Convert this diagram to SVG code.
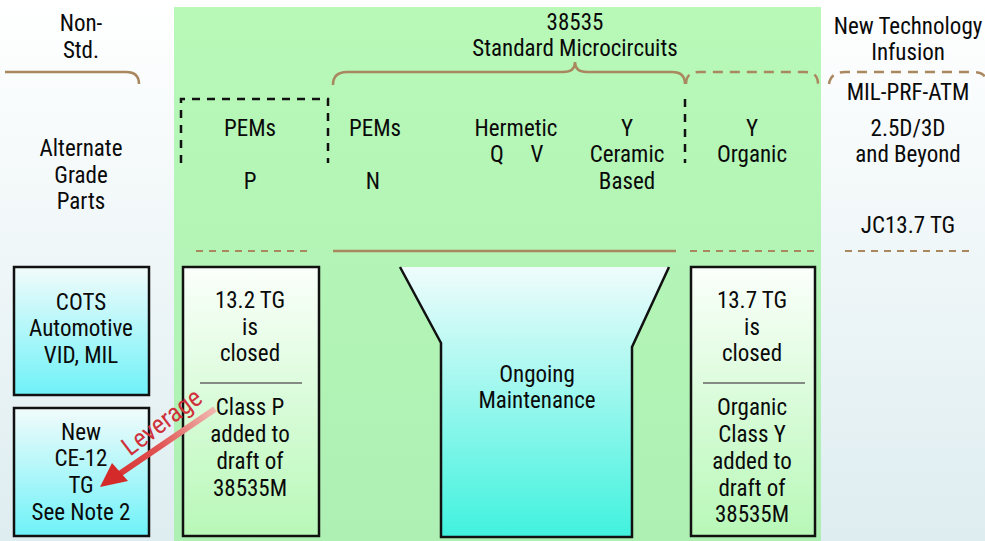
<svg xmlns="http://www.w3.org/2000/svg" width="985" height="541" viewBox="0 0 985 541">
<defs>
<linearGradient id="bgSide" x1="0" y1="0" x2="0" y2="1"><stop offset="0" stop-color="#ffffff"/><stop offset="1" stop-color="#deedf0"/></linearGradient>
<linearGradient id="bgGreen" x1="0" y1="0" x2="0" y2="1"><stop offset="0" stop-color="#b8f9b8"/><stop offset="1" stop-color="#aef0b4"/></linearGradient>
<linearGradient id="cyanBox" x1="0" y1="0" x2="0" y2="1"><stop offset="0" stop-color="#f2fbfb"/><stop offset="1" stop-color="#6ef2f8"/></linearGradient>
<linearGradient id="greenBox" x1="0" y1="0" x2="0" y2="1"><stop offset="0" stop-color="#fbfffb"/><stop offset="1" stop-color="#b8f8b8"/></linearGradient>
<linearGradient id="funnel" x1="0" y1="0" x2="0" y2="1"><stop offset="0" stop-color="#effcfc"/><stop offset="1" stop-color="#40f2de"/></linearGradient>
<linearGradient id="arrowGrad" gradientUnits="userSpaceOnUse" x1="215" y1="410" x2="100" y2="487"><stop offset="0" stop-color="#f0b8b0"/><stop offset="0.5" stop-color="#e05050"/><stop offset="1" stop-color="#d42a2a"/></linearGradient>
</defs>
<style>
text{font-family:"Roboto Condensed",Roboto,"Liberation Sans",Arial,sans-serif;font-size:23px;fill:#0a0a0a;text-anchor:middle}
.brace{fill:none;stroke:#a9875f;stroke-width:2.5}
.bdash{fill:none;stroke:#a9875f;stroke-width:2.5;stroke-dasharray:10 7}
.hdash{fill:none;stroke:#a9875f;stroke-width:2;stroke-dasharray:7 6}
.kdash{fill:none;stroke:#111;stroke-width:2.5;stroke-dasharray:8 7}
.box{stroke:#111;stroke-width:2.5}
.sep{stroke:#666;stroke-width:1.5}
.lev{fill:#d0303a;font-size:26px}
</style>
<rect x="0" y="0" width="985" height="541" fill="url(#bgSide)"/>
<rect x="0" y="0" width="985" height="7" fill="#ffffff"/>
<rect x="174" y="7" width="647" height="534" fill="url(#bgGreen)"/>

<g id="headers">
<text x="81" y="31">Non-</text>
<text x="81" y="58">Std.</text>
<text x="575" y="30">38535</text>
<text x="575" y="56">Standard Microcircuits</text>
<text x="908" y="34">New Technology</text>
<text x="908" y="60">Infusion</text>
</g>

<g id="braces">
<path class="brace" d="M5,72 L126,72 Q139,72 139,84"/>
<path class="brace" d="M333,85 Q333,72 347,72 L563,72 Q575,72 575,62 Q575,72 587,72 L672,72 Q685,72 685,84"/>
<path class="bdash" d="M686,84 Q686,72 699,72 L805,72 Q818,72 818,84"/>
<path class="bdash" d="M829,84 Q831,72 845,72 L972,72 Q984,72 985,78"/>
</g>

<g id="col-p">
<path class="kdash" d="M181,163 L181,99 L328,99 L328,163"/>
<text x="250" y="136">PEMs</text>
<text x="250" y="189">P</text>
</g>
<g id="col-n">
<text x="375" y="136">PEMs</text>
<text x="373" y="189">N</text>
</g>
<g id="col-hermetic">
<text x="516" y="136">Hermetic</text>
<text x="497" y="162">Q</text>
<text x="537" y="162">V</text>
</g>
<g id="col-ceramic">
<text x="627" y="136">Y</text>
<text x="627" y="162">Ceramic</text>
<text x="627" y="189">Based</text>
</g>
<path class="kdash" d="M685,99 L685,163"/>
<g id="col-organic">
<text x="752" y="136">Y</text>
<text x="752" y="162">Organic</text>
</g>
<g id="col-new">
<text x="908" y="100">MIL-PRF-ATM</text>
<text x="908" y="136">2.5D/3D</text>
<text x="908" y="162">and Beyond</text>
<text x="908" y="233">JC13.7 TG</text>
</g>
<g id="col-alt">
<text x="81" y="156">Alternate</text>
<text x="81" y="183">Grade</text>
<text x="81" y="209">Parts</text>
</g>

<g id="dividers">
<path class="hdash" d="M196,251 L308,251"/>
<path class="brace" d="M333,251 L676,251"/>
<path class="hdash" d="M690,251 L815,251"/>
<path class="hdash" d="M845,251 L972,251"/>
</g>

<g id="cots">
<rect class="box" x="14" y="267" width="135" height="128" fill="url(#cyanBox)"/>
<text x="81" y="310">COTS</text>
<text x="81" y="336">Automotive</text>
<text x="81" y="363">VID, MIL</text>
</g>
<g id="ce12">
<rect class="box" x="14" y="408" width="135" height="128" fill="url(#cyanBox)"/>
<text x="81" y="440">New</text>
<text x="81" y="466">CE-12</text>
<text x="81" y="493">TG</text>
<text x="81" y="520">See Note 2</text>
</g>
<g id="tg132">
<rect class="box" x="183" y="267" width="136" height="269" fill="url(#greenBox)"/>
<text x="250" y="308">13.2 TG</text>
<text x="250" y="335">is</text>
<text x="250" y="361">closed</text>
<line class="sep" x1="200" y1="383" x2="302" y2="383"/>
<text x="250" y="415">Class P</text>
<text x="250" y="442">added to</text>
<text x="250" y="469">draft of</text>
<text x="250" y="496">38535M</text>
</g>
<g id="maintenance">
<polygon points="400,267 669,267 632,347 632,537 441,537 441,343" fill="url(#funnel)"/>
<path d="M400,267 L441,343 L441,537 L632,537 L632,347 L669,267" fill="none" stroke="#111" stroke-width="2.5"/>
<text x="537" y="382">Ongoing</text>
<text x="537" y="408">Maintenance</text>
</g>
<g id="tg137">
<rect class="box" x="691" y="267" width="124" height="269" fill="url(#greenBox)"/>
<text x="752" y="308">13.7 TG</text>
<text x="752" y="335">is</text>
<text x="752" y="361">closed</text>
<line class="sep" x1="703" y1="383" x2="805" y2="383"/>
<text x="752" y="415">Organic</text>
<text x="752" y="442">Class Y</text>
<text x="752" y="469">added to</text>
<text x="752" y="496">draft of</text>
<text x="752" y="522">38535M</text>
</g>

<g id="connectors">
<line x1="215" y1="409" x2="118" y2="475" stroke="url(#arrowGrad)" stroke-width="6"/>
<path d="M100,487 L112,463 L128,481 z" fill="#d42a2a"/>
<text class="lev" transform="translate(167,429) rotate(-37)">Leverage</text>
</g>
</svg>
